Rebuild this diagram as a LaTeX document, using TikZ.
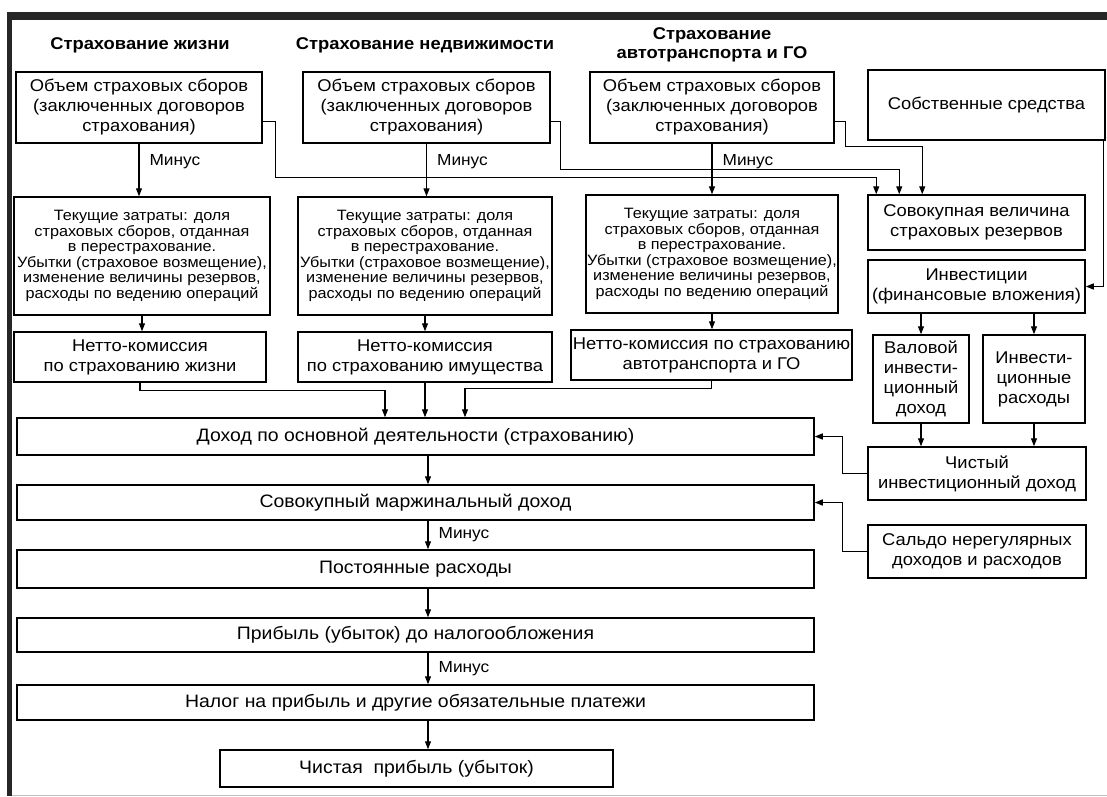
\documentclass[tikz,border=0pt]{standalone}
\usepackage{fontspec}
\setmainfont{Liberation Sans}[FakeStretch=1.08]
\usetikzlibrary{arrows.meta,calc}

\begin{document}
\begin{tikzpicture}[x=1pt, y=-1pt, >={Triangle[length=8pt,width=6pt]},
    box/.style={draw, line width=1.5pt, align=center, inner sep=0pt, font=\fontsize{17}{20}\selectfont},
    cost/.style={box, minimum height=118pt, font=\fontsize{15}{15.5}\selectfont},
    big/.style={box, minimum width=797pt, font=\fontsize{18}{20}\selectfont},
    head/.style={align=center, font=\bfseries\fontsize{17}{19}\selectfont},
    minus/.style={right, xshift=8pt, inner sep=2pt, font=\fontsize{16}{18}\selectfont},
    link/.style={->, line width=1.2pt}]
    \useasboundingbox (0,0) rectangle (1107,796);
    % рамка
    \fill[black!85] (7,12) rectangle (1107,20);
    \fill[black!85] (7,12) rectangle (12,796);
    \draw[black!25] (12,795) -- (1107,795);

    % заголовки
    \node[head] (hlife) at (140,45) {Страхование жизни};
    \node[head] (hprop) at (425,45) {Страхование недвижимости};
    \node[head] (hauto) at (712,45) {Страхование\\автотранспорта и ГО};

    % объем сборов
    \node[box, minimum width=246pt, minimum height=71pt] (vol1) at (139,107.5) {Объем страховых сборов\\(заключенных договоров\\страхования)};
    \node[box, minimum width=247pt, minimum height=71pt] (vol2) at (426.5,107.5) {Объем страховых сборов\\(заключенных договоров\\страхования)};
    \node[box, minimum width=244pt, minimum height=71pt] (vol3) at (712,107.5) {Объем страховых сборов\\(заключенных договоров\\страхования)};
    \node[box, minimum width=237pt, minimum height=70pt] (own) at (986.5,105) {Собственные средства};

    % текущие затраты
    \node[cost, minimum width=256pt] (cost1) at (142,256) {Текущие затраты: доля\\страховых сборов, отданная\\в перестрахование.\\Убытки (страховое возмещение),\\изменение величины резервов,\\расходы по ведению операций};
    \node[cost, minimum width=254pt] (cost2) at (425,256) {Текущие затраты: доля\\страховых сборов, отданная\\в перестрахование.\\Убытки (страховое возмещение),\\изменение величины резервов,\\расходы по ведению операций};
    \node[cost, minimum width=252pt] (cost3) at (712,254) {Текущие затраты: доля\\страховых сборов, отданная\\в перестрахование.\\Убытки (страховое возмещение),\\изменение величины резервов,\\расходы по ведению операций};
    \node[box, minimum width=217pt, minimum height=55pt] (reserves) at (976.5,222.5) {Совокупная величина\\страховых резервов};
    \node[box, minimum width=217pt, minimum height=53pt] (invest) at (976.5,286.5) {Инвестиции\\(финансовые вложения)};

    % нетто-комиссия
    \node[box, minimum width=252pt, minimum height=50pt] (net1) at (140,357) {Нетто-комиссия\\по страхованию жизни};
    \node[box, minimum width=254pt, minimum height=50pt] (net2) at (425,357) {Нетто-комиссия\\по страхованию имущества};
    \node[box, minimum width=281pt, minimum height=50pt] (net3) at (711.5,355) {Нетто-комиссия по страхованию\\автотранспорта и ГО};
    \node[box, minimum width=96pt, minimum height=88pt] (gross) at (921,379) {Валовой\\инвести-\\ционный\\доход};
    \node[box, minimum width=102pt, minimum height=88pt] (invcost) at (1034,379) {Инвести-\\ционные\\расходы};
    \node[box, minimum width=218pt, minimum height=53pt] (netinv) at (977,473.5) {Чистый\\инвестиционный доход};
    \node[box, minimum width=218pt, minimum height=53pt] (saldo) at (977,551.5) {Сальдо нерегулярных\\доходов и расходов};

    % итоговая колонка
    \node[big, minimum height=37pt] (income) at (415.5,436.5) {Доход по основной деятельности (страхованию)};
    \node[big, minimum height=35pt] (margin) at (415.5,502.5) {Совокупный маржинальный доход};
    \node[big, minimum height=38pt] (fixed) at (415.5,569) {Постоянные расходы};
    \node[big, minimum height=34pt] (ebt) at (415.5,635) {Прибыль (убыток) до налогообложения};
    \node[big, minimum height=35pt] (tax) at (415.5,702.5) {Налог на прибыль и другие обязательные платежи};
    \node[big, minimum width=393pt, minimum height=37pt] (netprofit) at (416.5,768.5) {Чистая\ \ прибыль (убыток)};
    \coordinate (spine) at (428,0);

    % минус
    \draw[link] (vol1.south) -- (vol1.south |- cost1.north) node[minus, pos=0.35] (mlife) {Минус};
    \draw[link] (vol2.south) -- (vol2.south |- cost2.north) node[minus, pos=0.35] (mprop) {Минус};
    \draw[link] (vol3.south) -- (vol3.south |- cost3.north) node[minus, pos=0.35] (mauto) {Минус};
    \draw[link] (cost1.south) -- (cost1.south |- net1.north);
    \draw[link] (cost2.south) -- (cost2.south |- net2.north);
    \draw[link] (cost3.south) -- (cost3.south |- net3.north);

    % в резервы
    \draw[link] ([yshift=-14pt]vol1.east) -- ++(13,0) -- ++(0,56) -| ([xshift=9pt]reserves.north west);
    \draw[link] ([yshift=-14pt]vol2.east) -- ++(10,0) -- ++(0,48) -| ([xshift=32pt]reserves.north west);
    \draw[link] ([yshift=-14pt]vol3.east) -- ++(11,0) -- ++(0,25) -| ([xshift=55pt]reserves.north west);

    % инвестиции
    \draw[link] ([xshift=-2pt]own.south east) |- (invest.east);
    \draw[link] (invest.south -| gross) -- (gross.north);
    \draw[link] (invest.south -| invcost) -- (invcost.north);
    \draw[link] (gross.south) -- (gross.south |- netinv.north);
    \draw[link] (invcost.south) -- (invcost.south |- netinv.north);
    \draw[link] (netinv.west) -- ++(-25,0) |- (income.east);
    \draw[link] (saldo.west) -- ++(-25,0) |- (margin.east);

    % нетто -> доход
    \draw[link] (net1.south) -- ++(0,8) -| ($(net2.south |- income.north)+(-40,0)$);
    \draw[link] (net2.south) -- (net2.south |- income.north);
    \draw[link] (net3.south) -- ++(0,8) -| ($(net2.south |- income.north)+(40,0)$);

    \draw[link] (income.south -| spine) -- (margin.north -| spine);
    \draw[link] (margin.south -| spine) -- (fixed.north -| spine) node[minus, midway] (mfixed) {Минус};
    \draw[link] (fixed.south -| spine) -- (ebt.north -| spine);
    \draw[link] (ebt.south -| spine) -- (tax.north -| spine) node[minus, midway] (mtax) {Минус};
    \draw[link] (tax.south -| spine) -- (netprofit.north -| spine);
\end{tikzpicture}
\end{document}
